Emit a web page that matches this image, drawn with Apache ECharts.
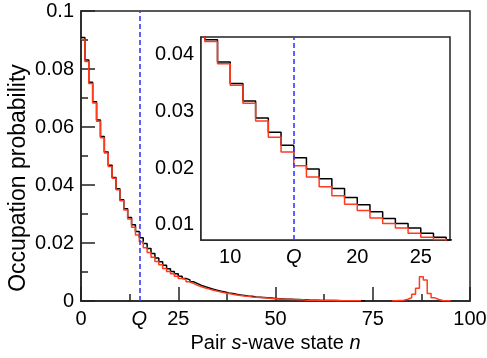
<!DOCTYPE html>
<html>
<head>
<meta charset="utf-8">
<script src="https://cdn.jsdelivr.net/npm/echarts@6/dist/echarts.min.js"></script>
<style>
html,body{margin:0;padding:0;background:#fff;}
#c{width:487px;height:358px;}
</style>
</head>
<body>
<div id="c"></div>
<script>
// ---- data ----
const Q = 15;
// black histogram, n = 0..72
const blackVals = [
  0.0909, 0.0831, 0.0754, 0.0687, 0.0624, 0.0567, 0.0514, 0.0468, 0.0426, 0.0387,
  0.0349, 0.0318, 0.0288, 0.0263, 0.0240, 0.0218, 0.0198, 0.0181, 0.0164, 0.0148,
  0.0135, 0.0123, 0.0111, 0.0102, 0.0094, 0.0085, 0.0078, 0.0073, 0.0066, 0.0060,
  0.0054, 0.0049, 0.0045, 0.0041, 0.0037, 0.0034, 0.0031, 0.0028, 0.0026, 0.0023,
  0.0021, 0.0019, 0.0017, 0.0016, 0.0014, 0.0013, 0.0012, 0.0011, 0.0010, 0.0009,
  0.0008, 0.0007, 0.0006, 0.0006, 0.0005, 0.0005, 0.0004, 0.0004, 0.0003, 0.0003,
  0.0003, 0.0002, 0.0002, 0.0002, 0.0002, 0.0002, 0.0001, 0.0001, 0.0001, 0.0001,
  0.0001, 0.0001, 0.0001
];
// red histogram, n = 0..94 (null = not drawn)
const redVals = [
  0.0902, 0.0826, 0.0750, 0.0683, 0.0620, 0.0563, 0.0510, 0.0464, 0.0423, 0.0384,
  0.0346, 0.0314, 0.0283, 0.0254, 0.0228, 0.0204, 0.0184, 0.0167, 0.0151, 0.0136,
  0.0125, 0.0112, 0.0102, 0.0094, 0.0085, 0.0078, 0.0074, 0.0066, 0.0060, 0.0054,
  0.0049, 0.0045, 0.0041, 0.0037, 0.0034, 0.0031, 0.0028, 0.0026, 0.0023, 0.0021,
  0.0019, 0.0017, 0.0016, 0.0014, 0.0013, 0.0012, 0.0011, 0.0010, 0.0009, 0.0008,
  0.0007, 0.0006, 0.0006, 0.0005, 0.0005, 0.0004, 0.0004, 0.0003, 0.0003, 0.0003,
  0.0002, 0.0002, 0.0002, 0.0002, 0.0002, 0.0001, 0.0001, 0.0001, 0.0001, 0.0001,
  0.0001, 0.0001, null, null, null, null, null, null, null, null,
  0.0001, 0.0002, 0.0003, 0.0006, 0.0011, 0.0023, 0.0044, 0.0084, 0.0072, 0.0026,
  0.0011, 0.0005, 0.0002, 0.0001, 0.0001
];
const mainXTicks = [0, 25, 50, 75, 100];
const mainXLabels = [0, Q, 25, 50, 75, 100];
const insetXMajor = [10, Q, 20, 25];
const insetXMinor = [12.5, 17.5, 22.5];
const insetYMajor = [0.01, 0.02, 0.03, 0.04];
const insetYMinor = [0.015, 0.025, 0.035];

// ---- build step data (bin n spans n..n+1) ----
function stepData(vals) {
  const out = [];
  for (let i = 0; i < vals.length; i++) {
    const v = vals[i];
    if (v == null) continue;
    out.push([i, v]);
    const nxt = vals[i + 1];
    if (nxt == null) { out.push([i + 1, v]); out.push([i + 1, null]); }
  }
  return out;
}
const blackData = stepData(blackVals);
const redData = stepData(redVals);

const FONT = 'Liberation Sans, Arial, Helvetica, sans-serif';
const BLACK = '#000000';
const RED = '#ff3a1f';
const BLUE = '#3a3aff';
const FRAME = '#222222';

const qFmt = v => (Math.abs(v - Q) < 1e-9 ? '{q|Q}' : String(v));
const labelBase = {fontFamily: FONT, fontSize: 20, color: '#000',
  rich: {q: {fontFamily: FONT, fontSize: 20, fontStyle: 'italic', color: '#000'}}};

const chart = echarts.init(document.getElementById('c'), null, {renderer: 'canvas'});
const qLine = {
  symbol: 'none', silent: true, animation: false,
  label: {show: false},
  lineStyle: {color: BLUE, type: [5, 3], width: 1.6},
  data: [{xAxis: Q}]
};
const option = {
  animation: false,
  backgroundColor: '#ffffff',
  grid: [
    {left: 81, right: 17, top: 11, bottom: 57, show: true, borderColor: FRAME, borderWidth: 1.5, backgroundColor: 'transparent', containLabel: false, outerBoundsMode: 'none'},
    {left: 201, right: 37, top: 37, bottom: 118, show: true, borderColor: FRAME, borderWidth: 1.5, backgroundColor: '#ffffff', z: 5, containLabel: false, outerBoundsMode: 'none'}
  ],
  xAxis: [
    {
      gridIndex: 0, type: 'value', min: 0, max: 100, interval: 25, position: 'bottom',
      name: 'Pair {i|s}-wave state {i|n}', nameLocation: 'middle', nameGap: 30,
      nameTextStyle: {fontFamily: FONT, fontSize: 20, color: '#000',
        rich: {i: {fontFamily: FONT, fontSize: 20, fontStyle: 'italic', color: '#000'}}},
      axisLine: {show: true, lineStyle: {color: FRAME, width: 1.5}},
      axisTick: {show: true, inside: true, length: 14, customValues: mainXTicks, lineStyle: {color: FRAME, width: 1.5}},
      minorTick: {show: true, splitNumber: 2, length: 7, lineStyle: {color: FRAME, width: 1.5}},
      axisLabel: Object.assign({margin: 8, customValues: mainXLabels, formatter: qFmt}, labelBase),
      splitLine: {show: false}, minorSplitLine: {show: false}
    },
    {
      gridIndex: 1, type: 'value', min: 7.7, max: 27.3, position: 'bottom',
      axisLine: {show: true, lineStyle: {color: FRAME, width: 1.5}},
      axisTick: {show: true, inside: true, length: 14, customValues: insetXMajor, lineStyle: {color: FRAME, width: 1.5}},
      axisLabel: Object.assign({margin: 7, customValues: insetXMajor, formatter: qFmt}, labelBase),
      splitLine: {show: false}
    },
    {
      gridIndex: 1, type: 'value', min: 7.7, max: 27.3, position: 'bottom', offset: 0,
      axisLine: {show: false},
      axisTick: {show: true, inside: true, length: 7, customValues: insetXMinor, lineStyle: {color: FRAME, width: 1.5}},
      axisLabel: {show: false},
      splitLine: {show: false}
    }
  ],
  yAxis: [
    {
      gridIndex: 0, type: 'value', min: 0, max: 0.1, interval: 0.02, position: 'left',
      name: 'Occupation probability', nameLocation: 'middle', nameGap: 51, nameMoveOverlap: false,
      nameTextStyle: {fontFamily: FONT, fontSize: 23, color: '#000', padding: [0, 44, 0, 0]},
      axisLine: {show: true, lineStyle: {color: FRAME, width: 1.5}},
      axisTick: {show: true, inside: true, length: 14, lineStyle: {color: FRAME, width: 1.5}},
      minorTick: {show: true, splitNumber: 2, length: 7, lineStyle: {color: FRAME, width: 1.5}},
      axisLabel: Object.assign({margin: 7, formatter: v => (v === 0 ? '0' : (Math.abs(v - 0.1) < 1e-9 ? '0.1' : v.toFixed(2)))}, labelBase),
      splitLine: {show: false}, minorSplitLine: {show: false}
    },
    {
      gridIndex: 1, type: 'value', min: 0.0073, max: 0.0431, position: 'left',
      axisLine: {show: true, lineStyle: {color: FRAME, width: 1.5}},
      axisTick: {show: true, inside: true, length: 14, customValues: insetYMajor, lineStyle: {color: FRAME, width: 1.5}},
      axisLabel: Object.assign({margin: 7, customValues: insetYMajor, formatter: v => v.toFixed(2)}, labelBase),
      splitLine: {show: false}
    },
    {
      gridIndex: 1, type: 'value', min: 0.0073, max: 0.0431, position: 'left', offset: 0,
      axisLine: {show: false},
      axisTick: {show: true, inside: true, length: 7, customValues: insetYMinor, lineStyle: {color: FRAME, width: 1.5}},
      axisLabel: {show: false},
      splitLine: {show: false}
    }
  ],
  series: [
    {type: 'line', xAxisIndex: 0, yAxisIndex: 0, step: 'end', data: blackData, showSymbol: false, symbol: 'none',
      lineStyle: {color: BLACK, width: 1.5}, connectNulls: false, z: 2},
    {type: 'line', xAxisIndex: 0, yAxisIndex: 0, step: 'end', data: redData, showSymbol: false, symbol: 'none',
      lineStyle: {color: RED, width: 1.5}, connectNulls: false, z: 3, markLine: qLine},
    {type: 'line', xAxisIndex: 1, yAxisIndex: 1, step: 'end', data: blackData, showSymbol: false, symbol: 'none',
      lineStyle: {color: BLACK, width: 1.5}, connectNulls: false, clip: true, z: 6},
    {type: 'line', xAxisIndex: 1, yAxisIndex: 1, step: 'end', data: redData, showSymbol: false, symbol: 'none',
      lineStyle: {color: RED, width: 1.5}, connectNulls: false, clip: true, z: 7, markLine: Object.assign({}, qLine, {z: 8})}
  ]
};
chart.setOption(option);
</script>
</body>
</html>
